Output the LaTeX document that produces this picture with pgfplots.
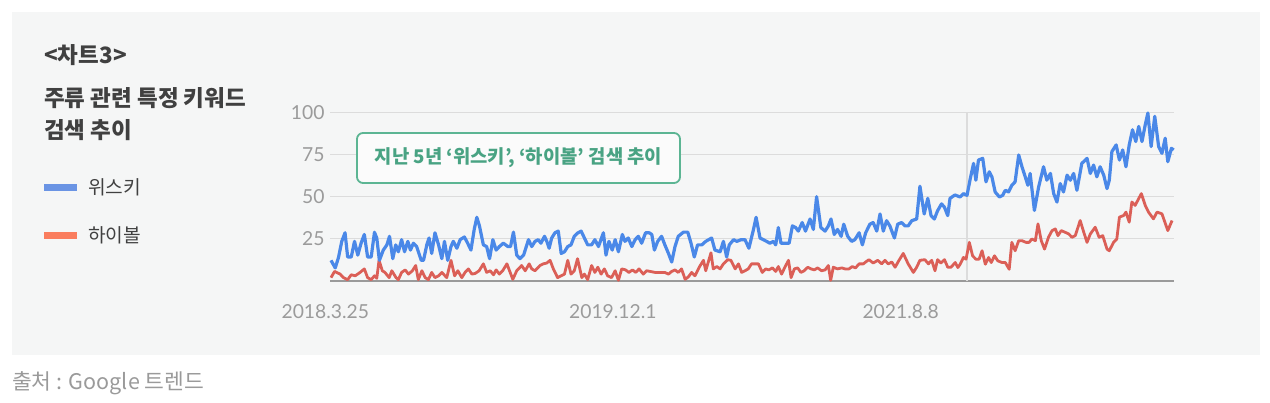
\documentclass[border=0pt]{standalone}
\usepackage{pgfplots}
\pgfplotsset{compat=1.18}
\usepackage{fontspec}
\setmainfont{Lato}
\newfontfamily\kr{Noto Sans CJK KR}

\definecolor{panel}{HTML}{F5F6F6}
\definecolor{gridc}{HTML}{DCDCDC}
\definecolor{basec}{HTML}{9A9A9A}
\definecolor{tickc}{HTML}{9B9B9B}
\definecolor{blueline}{HTML}{4A88E8}
\definecolor{redline}{HTML}{DB5F57}
\definecolor{legblue}{HTML}{6A94E4}
\definecolor{legred}{HTML}{FA7D5E}
\definecolor{titlec}{HTML}{404040}
\definecolor{teal}{HTML}{5CB593}
\definecolor{tealtext}{HTML}{49A383}
\definecolor{srcc}{HTML}{9A9A9A}

\begin{document}
\begin{tikzpicture}
\useasboundingbox (0pt,0pt) rectangle (1270pt,-403pt);
\fill[white] (0pt,0pt) rectangle (1270pt,-403pt);
\fill[panel] (12pt,-12pt) rectangle (1260pt,-355pt);

% title and legend
\node[anchor=west, inner sep=0pt, text=titlec, font=\kr\bfseries\fontsize{22.5}{26}\selectfont] at (44pt,-55pt) {<차트3>};
\node[anchor=west, inner sep=0pt, text=titlec, font=\kr\bfseries\fontsize{22.5}{26}\selectfont] at (44pt,-98pt) {주류 관련 특정 키워드};
\node[anchor=west, inner sep=0pt, text=titlec, font=\kr\bfseries\fontsize{22.5}{26}\selectfont] at (44pt,-130pt) {검색 추이};
\fill[legblue] (44pt,-184pt) rectangle (77pt,-191pt);
\node[anchor=west, inner sep=0pt, text=titlec, font=\kr\fontsize{19.2}{22}\selectfont] at (88pt,-187pt) {위스키};
\fill[legred] (44pt,-232pt) rectangle (77pt,-239pt);
\node[anchor=west, inner sep=0pt, text=titlec, font=\kr\fontsize{19.2}{22}\selectfont] at (88pt,-235pt) {하이볼};

\begin{axis}[
  at={(330pt,-281pt)}, anchor=south west,
  scale only axis, width=843.7pt, height=168pt,
  xmin=1.5, xmax=259.5, ymin=0, ymax=100,
  axis x line=bottom, axis y line=left,
  x axis line style={-, color=basec, line width=1.2pt},
  y axis line style={draw=none},
  major tick length=0pt,
  xtick={1.6,88,176},
  xticklabels={\hspace*{-10pt}2018.3.25, 2019.12.1, 2021.8.8},
  ytick={25,50,75,100},
  ymajorgrids, grid style={color=gridc, line width=1pt},
  /pgf/number format/assume math mode=true,
  tick label style={text=tickc, font=\fontsize{19.3}{19}\selectfont},
  xticklabel style={yshift=-20pt},
  yticklabel style={xshift=-2pt},
  clip=false,
]
\draw[gridc, line width=1.2pt] (axis cs:196.3,0) -- (axis cs:196.3,100);
\addplot[redline, line width=2.8pt, line join=round] coordinates {
(1.8,2.0)(2.9,5.7)(4.6,4.1)(5.6,2.0)(6.9,0.8)(8.0,3.7)(9.2,3.1)(10.7,5.1)(12.0,7.2)(13.0,2.0)(14.1,0.8)(15.1,3.1)(15.8,1.6)(16.5,12.3)(17.5,6.1)(18.3,5.1)(19.6,2.0)(20.4,6.1)(21.7,2.0)(22.4,0.8)(23.4,5.1)(24.5,6.6)(25.5,4.1)(26.7,6.1)(27.7,9.2)(28.5,0.8)(29.6,6.1)(30.6,2.0)(31.6,0.8)(32.6,5.1)(33.6,2.0)(34.7,3.1)(35.7,5.1)(37.2,2.0)(38.5,12.3)(39.6,3.1)(40.6,6.1)(41.8,2.0)(42.8,5.1)(43.8,7.2)(44.9,4.1)(45.9,4.5)(47.1,6.1)(48.4,10.2)(49.4,5.1)(50.5,6.1)(51.5,3.7)(52.3,6.6)(53.3,4.1)(54.3,6.1)(55.6,10.2)(56.4,6.1)(57.4,1.0)(58.6,6.1)(60.1,9.2)(61.2,6.1)(62.4,10.2)(63.2,7.2)
(64.2,6.1)(65.7,9.2)(66.7,10.2)(67.8,10.7)(68.8,12.3)(69.8,7.2)(71.1,2.0)(72.2,3.1)(73.2,4.1)(74.2,12.3)(75.2,4.1)(76.2,6.1)(77.2,13.3)(78.5,2.0)(79.3,4.1)(80.3,0.8)(81.5,9.2)(82.5,5.1)(83.4,8.2)(84.4,4.1)(85.4,7.2)(86.4,3.1)(87.6,2.0)(88.7,6.1)(89.7,0.4)(90.7,7.2)(91.9,6.6)(92.9,5.1)(94.0,6.6)(95.0,5.1)(96.0,7.2)(97.3,4.1)(98.3,6.1)(99.4,5.7)(100.9,5.1)(102.4,5.1)(103.9,5.1)(105.0,4.1)(106.0,5.7)(107.0,6.6)(108.0,5.1)(109.0,7.2)(110.1,1.0)(111.1,2.5)(112.1,5.1)(113.1,3.1)(114.4,8.2)(115.7,12.3)(116.4,6.1)(118.0,16.8)(118.7,7.2)(119.8,8.6)(120.8,7.2)(121.8,10.2)(123.1,12.7)(124.1,12.3)(125.4,7.2)(126.4,10.2)(127.4,5.1)
(128.4,6.1)(129.4,7.2)(130.4,10.2)(132.5,10.2)(133.7,5.1)(134.7,7.2)(135.7,6.6)(136.8,7.8)(137.8,5.7)(138.6,8.6)(139.6,4.1)(140.6,8.2)(141.7,12.3)(142.5,2.0)(143.5,7.2)(144.5,7.8)(145.5,5.1)(146.5,6.1)(147.6,8.2)(148.6,7.2)(149.6,6.6)(150.6,7.8)(151.8,6.1)(152.9,6.6)(153.9,9.2)(154.6,0.4)(155.4,8.2)(156.7,7.2)(158.0,7.8)(159.0,7.2)(160.2,7.2)(161.2,8.6)(162.2,7.8)(163.3,10.2)(164.6,10.2)(165.3,11.3)(166.3,12.7)(167.6,10.7)(169.0,12.3)(170.2,10.2)(171.2,12.3)(172.2,10.2)(173.3,11.3)(174.3,8.2)(175.5,12.3)(176.8,16.4)(178.3,10.2)(179.9,5.1)(180.9,8.2)(181.9,12.3)(183.4,12.7)(184.5,10.2)(185.5,12.3)(186.5,6.1)(187.3,12.7)(188.3,10.7)(189.4,12.7)(190.4,8.2)(191.4,8.2)
(192.7,11)(193.5,8)(194.2,10)(195.2,14)(196.0,13)(197.0,23)(198.0,15)(199.0,13)(200.0,13)(200.9,18)(201.9,10)(202.9,14)(203.7,11)(204.7,15)(205.7,12)(207.0,11)(208.0,11)(209.2,7)(210.0,23)(211.0,18)(212.1,24)(213.1,24)(214.3,23)(215.3,23)(216.1,25)(217.2,24)(218.0,34)(219.0,24)(220.0,19)(221.2,26)(222.3,30)(223.3,31)(224.1,27)(225.1,30)(226.3,29)(227.4,28)(228.4,26)(229.4,27)(230.9,36)(232.0,29)(233.0,23)(234.0,28)(235.5,32)(236.7,26)(237.8,27)(239.1,19)(239.8,18)(241.1,23)(242.1,25)(242.9,38)(244.2,39)(244.9,41)(245.9,35)(246.7,47)(247.7,45)(249.6,52)(250.8,45)(251.8,41)(253.3,37)(254.4,41)(255.9,40)(257.7,30)(259.0,36)
};
\addplot[blueline, line width=3.2pt, line join=round] coordinates {
(1.8,12.3)(3.1,7.8)(4.1,14)(5.1,23.6)(6.1,28.7)(6.9,14.3)(8.0,14.3)(9.0,23.6)(10.0,15.4)(11.0,22.5)(12.0,27.7)(13.0,14.3)(14.1,14.3)(15.1,29)(15.8,25.6)(16.6,12.3)(17.8,18.4)(18.9,21.5)(19.7,26.6)(20.7,13.3)(21.6,21.5)(22.4,17.4)(23.4,24.6)(24.3,17.4)(25.3,23.6)(26.1,18.4)(27.0,22.5)(28.0,20.5)(29.4,12.3)(30.1,12.3)(31.1,21.5)(31.8,25.6)(32.6,16.4)(33.6,28.7)(34.7,21.5)(35.7,13.3)(36.5,23.6)(37.5,12.3)(38.5,20.5)(39.2,23.6)(40.3,19.5)(41.3,24.6)(42.6,26.2)(43.6,22.5)(44.6,18.4)(45.6,30.7)(46.4,37.9)(47.2,32.8)(48.4,21.5)(49.4,20.5)(50.3,13.3)(51.3,24.6)(52.3,18.4)(53.3,20.5)(54.5,22.5)(55.9,20.5)(56.7,20.5)(57.6,29.1)(58.6,15.4)(59.6,13.3)(60.7,15.4)(62.2,24.6)(63.2,20.5)
(64.2,23.6)(65.2,24.6)(66.0,22.5)(67.1,26.6)(67.8,23.6)(68.5,19.5)(69.3,25.6)(70.3,28.7)(71.3,29.7)(72.2,16.4)(73.2,17.4)(74.2,20.5)(75.2,21.5)(76.2,26.6)(77.2,28.5)(78.3,29.7)(79.3,25.6)(80.3,21.5)(81.5,21.5)(82.5,24.6)(83.6,20.5)(85.1,28.7)(85.9,15.4)(86.8,23.6)(87.8,18.4)(88.7,24.6)(89.7,17.4)(90.9,27.7)(91.7,23.6)(92.7,25.6)(93.8,20.5)(94.8,24.6)(95.8,26.6)(96.8,22.5)(98.0,28.7)(99.1,28.7)(99.9,27.7)(100.7,18.4)(101.7,23.6)(102.9,26.6)(103.9,21.5)(105.0,16.4)(106.0,11.3)(107.0,20.5)(108.0,26.6)(109.6,29.1)(110.9,29.1)(111.9,22.5)(112.9,14.3)(113.9,21.5)(115.2,21.5)(116.4,23.6)(118.2,25.6)(119.2,18.4)(120.8,17.4)(121.8,23.6)(122.8,14.3)(123.6,21.5)(124.9,24.6)(125.9,23.6)(127.2,24.6)
(128.4,24.6)(129.6,19.5)(131.0,30.7)(131.8,37.9)(133.0,25.6)(134.0,24.6)(135.0,23.6)(136.0,22.5)(137.1,23.6)(137.8,21.5)(138.6,31.8)(139.4,22.5)(140.6,22.5)(141.9,22.5)(142.9,32.8)(143.9,31.8)(144.7,29.7)(145.9,34.8)(146.9,29.7)(148.3,36.9)(149.3,30.7)(150.3,50.2)(151.6,31.8)(152.9,29.7)(153.9,32.8)(154.7,36.9)(155.7,27.7)(156.7,30.7)(157.8,26.6)(158.6,33.8)(159.8,26.6)(161.0,23.6)(162.0,24.6)(163.3,28.7)(164.3,21.5)(165.3,28.7)(166.6,33.8)(167.6,34.8)(168.7,29.7)(169.7,39.9)(170.7,29.7)(171.7,35.9)(172.7,32.8)(174.1,25.6)(175.1,33.8)(176.3,34.8)(177.3,32.8)(178.3,32.8)(179.4,35.9)(180.9,36.9)(181.9,56.4)(183.2,39.9)(184.3,49.2)(185.3,38.9)(186.3,36.9)(187.3,41.8)(188.5,45.9)(189.4,43.9)(190.4,38.9)(191.1,49.2)(192.6,51.2)
(194.2,50)(195.2,52)(196.3,51)(197.3,61)(198.3,70)(199.0,60)(199.8,72)(201.1,73)(202.1,59)(203.1,65)(203.9,62)(204.9,53)(206.2,50)(207.2,51)(208.0,54)(209.0,53)(210.0,57)(211.0,59)(212.1,75)(213.1,68)(214.1,62)(214.9,57)(215.6,64)(216.9,42)(218.2,56)(219.7,68)(220.7,60)(221.8,64)(222.8,52)(223.8,47)(224.8,58)(225.8,53)(226.9,63)(227.9,60)(228.9,64)(229.9,54)(231.4,70)(233.0,73)(234.0,64)(235.0,69)(236.0,62)(237.0,68)(238.1,63)(239.1,55)(239.8,60)(240.6,77)(241.9,81)(242.9,72)(243.9,78)(244.9,68)(245.9,81)(246.9,90)(247.9,83)(248.8,92)(249.8,83)(250.8,93)(251.6,100)(252.6,80)(253.7,98)(254.9,80)(255.9,76)(256.9,85)(257.7,71)(258.8,79)(259.5,78)
};
\end{axis}

% annotation
\draw[teal, line width=1.8pt, fill=white!60!panel, rounded corners=6pt] (357pt,-133pt) rectangle (680pt,-183pt);
\node[inner sep=0pt, text=tealtext, font=\kr\bfseries\fontsize{18.8}{22}\selectfont] at (518.5pt,-158pt) {지난 5년 ‘위스키’, ‘하이볼’ 검색 추이};

% source
\node[anchor=west, inner sep=0pt, text=srcc, font=\kr\fontsize{21.5}{25}\selectfont] at (12pt,-383pt) {출처 : Google 트렌드};
\end{tikzpicture}
\end{document}
